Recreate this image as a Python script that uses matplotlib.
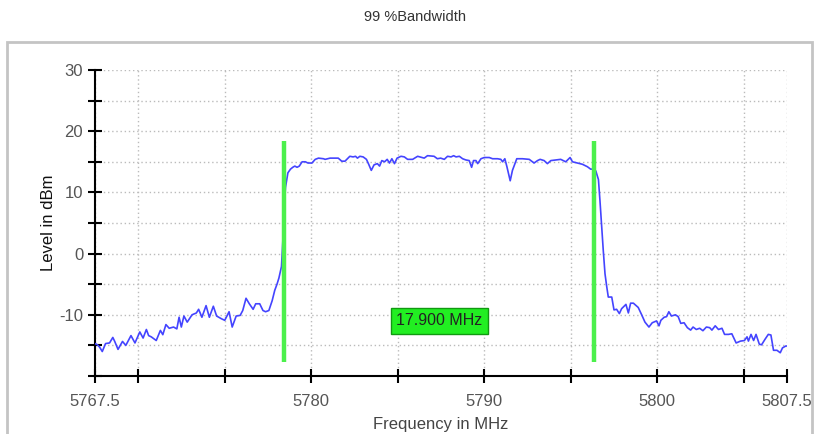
import matplotlib.pyplot as plt
from matplotlib.patches import Rectangle

plt.rcParams['font.family'] = ['Liberation Sans', 'DejaVu Sans']

# spectrum trace (MHz, dBm)
freq = [5767.5, 5767.64, 5767.77, 5767.92, 5768.11, 5768.34, 5768.53, 5768.64, 5768.83,
        5769.09, 5769.28, 5769.58, 5769.81, 5770.09, 5770.28, 5770.47, 5770.60, 5770.75,
        5771.04, 5771.28, 5771.42, 5771.60, 5771.79, 5772.04, 5772.23, 5772.36, 5772.49,
        5772.64, 5772.83, 5773.11, 5773.36, 5773.49, 5773.68, 5773.92, 5774.11, 5774.34,
        5774.53, 5774.81, 5775.0, 5775.25, 5775.43, 5775.66, 5775.89, 5776.04, 5776.23,
        5776.42, 5776.64, 5776.79, 5777.02, 5777.21, 5777.36, 5777.55, 5777.74, 5777.89,
        5778.02, 5778.13, 5778.28, 5778.36, 5778.44, 5778.51, 5778.65, 5778.80, 5778.93,
        5779.05, 5779.18, 5779.31, 5779.47, 5779.66, 5779.81, 5780.04, 5780.23, 5780.42,
        5780.71, 5780.80, 5781.09, 5781.56, 5781.76, 5781.95, 5782.23, 5782.42, 5782.56,
        5782.67, 5782.81, 5783.0, 5783.19, 5783.32, 5783.47, 5783.63, 5783.82, 5783.95,
        5784.08, 5784.24, 5784.39, 5784.52, 5784.66, 5784.81, 5784.96, 5785.19, 5785.38,
        5785.57, 5785.86, 5786.15, 5786.53, 5786.72, 5787.10, 5787.29, 5787.48, 5787.69,
        5787.88, 5788.08, 5788.23, 5788.37, 5788.56, 5788.75, 5788.94, 5789.13, 5789.27,
        5789.38, 5789.52, 5789.62, 5789.81, 5790.0, 5790.29, 5790.48, 5790.77, 5790.96,
        5791.06, 5791.19, 5791.31, 5791.50, 5791.63, 5791.88, 5792.21, 5792.60, 5792.88,
        5793.08, 5793.23, 5793.46, 5793.65, 5793.85, 5794.13, 5794.42, 5794.71, 5794.96,
        5795.10, 5795.38, 5795.67, 5795.96, 5796.15, 5796.31, 5796.45, 5796.60, 5796.69,
        5796.79, 5796.88, 5796.98, 5797.08, 5797.17, 5797.37, 5797.50, 5797.65, 5797.81,
        5797.94, 5798.08, 5798.19, 5798.33, 5798.46, 5798.62, 5798.90, 5799.10, 5799.29,
        5799.52, 5799.71, 5799.96, 5800.10, 5800.21, 5800.40, 5800.54, 5800.67, 5800.82,
        5801.05, 5801.21, 5801.36, 5801.55, 5801.74, 5801.93, 5802.07, 5802.26, 5802.45,
        5802.64, 5802.84, 5803.03, 5803.16, 5803.35, 5803.54, 5803.74, 5803.89, 5804.12,
        5804.31, 5804.56, 5804.81, 5805.04, 5805.19, 5805.27, 5805.42, 5805.57, 5805.71,
        5805.90, 5806.03, 5806.23, 5806.42, 5806.57, 5806.72, 5806.92, 5807.11, 5807.24,
        5807.43, 5807.5]
level = [-14.7, -14.9, -15.3, -16.0, -14.7, -14.6, -13.7, -14.35, -15.65,
         -14.35, -15.0, -13.4, -14.6, -12.8, -13.8, -12.4, -13.4, -13.6,
         -14.2, -12.55, -13.25, -11.6, -12.2, -12.0, -12.3, -10.4, -12.0,
         -10.2, -11.2, -10.0, -9.7, -9.1, -10.4, -8.5, -10.4, -8.6,
         -10.2, -10.65, -10.9, -9.5, -12.0, -10.2, -10.1, -9.3, -7.3,
         -8.2, -9.1, -8.2, -8.2, -9.3, -9.5, -9.3, -7.7, -6.0,
         -5.0, -4.0, -2.1, 2.2, 7.6, 10.8, 13.2, 13.8, 14.1,
         14.3, 14.1, 14.3, 15.0, 15.0, 14.8, 14.8, 15.4, 15.6,
         15.5, 15.4, 15.6, 15.6, 15.1, 15.1, 15.9, 15.8, 15.9,
         15.6, 15.9, 15.8, 15.4, 14.6, 13.6, 14.5, 14.7, 14.3,
         15.2, 15.0, 15.4, 14.8, 15.5, 14.7, 15.6, 15.9, 15.8,
         15.4, 15.4, 15.9, 15.6, 16.0, 15.9, 15.5, 15.6, 15.4,
         15.9, 15.8, 16.0, 15.8, 15.9, 15.5, 15.3, 15.2, 14.1,
         15.2, 15.2, 14.7, 15.5, 15.7, 15.7, 15.5, 15.5, 15.4,
         15.0, 15.5, 14.2, 11.9, 13.6, 15.5, 15.5, 15.4, 14.8,
         15.2, 15.4, 15.2, 14.7, 15.2, 15.3, 15.4, 15.0, 15.7,
         15.0, 14.8, 14.6, 14.2, 13.8, 13.8, 13.5, 12.1, 8.6,
         4.3, 0.5, -3.3, -5.4, -7.1, -7.1, -9.2, -9.1, -9.8,
         -9.0, -8.6, -8.3, -9.7, -8.1, -8.1, -8.8, -10.0, -11.2,
         -12.0, -11.3, -11.0, -11.8, -10.9, -10.4, -10.3, -9.5, -10.2,
         -10.0, -10.3, -11.4, -11.3, -12.1, -12.5, -12.0, -12.4, -12.2,
         -12.6, -12.0, -12.1, -12.5, -11.8, -12.4, -12.2, -13.2, -13.2,
         -13.1, -14.6, -14.3, -14.2, -13.6, -14.3, -13.2, -14.2, -13.2,
         -14.8, -14.9, -14.0, -13.2, -13.3, -15.8, -15.8, -16.2, -15.4,
         -15.1, -15.1]

# 99 % bandwidth markers
marker_freq = [5778.45, 5796.35]
marker_low, marker_high = -17.7, 18.4
bw_label = '17.900 MHz'

x_ticks = [5767.5, 5770, 5775, 5780, 5785, 5790, 5795, 5800, 5805, 5807.5]
x_labels = ['5767.5', '', '', '5780', '', '5790', '', '5800', '', '5807.5']
y_ticks = [-20, -15, -10, -5, 0, 5, 10, 15, 20, 25, 30]
y_labels = ['', '', '-10', '', '0', '', '10', '', '20', '', '30']

fig = plt.figure(figsize=(8.19, 4.34), dpi=100)
ax = fig.add_axes([95 / 819, 1 - 376 / 434, 692 / 819, 306 / 434])

# outer grey frame
fig.patches.append(Rectangle((7 / 819, -0.1), 805 / 819, 1.1 - 42 / 434,
                             transform=fig.transFigure, fill=False,
                             edgecolor='#c4c4c4', linewidth=2))

ax.plot(freq, level, color='#4444ff', linewidth=1.2, zorder=3)
ax.vlines(marker_freq, marker_low, marker_high, color='#4cf04c', linewidth=3.2, zorder=4)
ax.text(sum(marker_freq) / 2, -11.0, bw_label, fontsize=11.5, color='#222222',
        ha='center', va='center', zorder=5,
        bbox=dict(boxstyle='square,pad=0.35', facecolor='#22ee22', edgecolor='#119911',
                  linewidth=1))

ax.set_xlim(5767.5, 5807.5)
ax.set_ylim(-20, 30)
ax.set_xticks(x_ticks)
ax.set_xticklabels(x_labels)
ax.set_yticks(y_ticks)
ax.set_yticklabels(y_labels)
ax.grid(True, linestyle=(0, (1, 2)), color='#bbbbbb', linewidth=1)
ax.set_axisbelow(True)

for side in ['top', 'right']:
    ax.spines[side].set_visible(False)
for side in ['left', 'bottom']:
    ax.spines[side].set_linewidth(1.5)
ax.tick_params(axis='both', direction='inout', length=10, width=1.5,
               labelsize=12, labelcolor='#555555')
ax.tick_params(axis='x', pad=8)

ax.set_xlabel('Frequency in MHz', fontsize=12, color='#444444', labelpad=6)
ax.set_ylabel('Level in dBm', fontsize=12, color='#111111', labelpad=2)
fig.text(415 / 819, 1 - 17 / 434, '99 %Bandwidth', fontsize=10.5, color='#333333',
         ha='center', va='center')

fig.savefig('out.png', dpi=100)
